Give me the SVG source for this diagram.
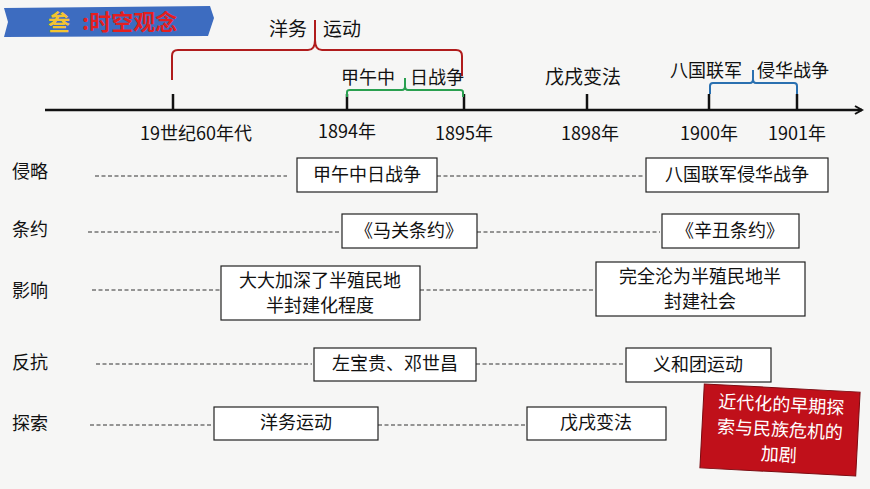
<svg xmlns="http://www.w3.org/2000/svg" width="870" height="489" viewBox="0 0 870 489">
<style>
text{font-family:"Noto Sans CJK SC","Noto Sans",sans-serif;font-size:17px;fill:#111}
.L{font-size:19px}
.y{font-size:18px}
.b{fill:#fff;stroke:#222;stroke-width:1.2}
.d{stroke:#333;stroke-width:1;stroke-dasharray:4 2.5;fill:none}
.t{stroke:#111;stroke-width:2.5}
.c{text-anchor:middle}
</style>
<defs><marker id="ar" markerWidth="10" markerHeight="10" refX="8" refY="5" orient="auto" markerUnits="userSpaceOnUse"><path d="M1 1 L8 5 L1 9" fill="none" stroke="#111" stroke-width="2"/></marker></defs>
<rect width="870" height="489" fill="#f6f6f5"/>
<g id="title"><path d="M4 8 L210 6 L214 18 L208 36 L4 37 L8 22 Z" fill="#3d6cc0"/>
<text x="48" y="30" style="font-weight:bold;font-size:22px;fill:#f4c430">叁</text><text x="82" y="30" style="font-weight:bold;font-size:22px;fill:#e41f1f">:时空观念</text></g>
<g id="connectors">
<line x1="45" y1="110" x2="862" y2="110" class="t" marker-end="url(#ar)"/>
<g class="t"><line x1="173" y1="94" x2="173" y2="110"/><line x1="347" y1="94" x2="347" y2="110"/><line x1="464" y1="94" x2="464" y2="110"/><line x1="587" y1="94" x2="587" y2="110"/><line x1="709" y1="94" x2="709" y2="110"/><line x1="797" y1="94" x2="797" y2="110"/></g>
<path d="M172 80 V56 Q172 50 178 50 H308 Q315 50 315 40 V20 M315 40 Q315 50 322 50 H456 Q462 50 462 56 V76" fill="none" stroke="#b01c1c" stroke-width="2"/>
<path d="M347 97 V92 Q347 90 350 90 H402 Q405 90 405 86 V78 M405 86 Q405 90 408 90 H460 Q463 90 463 92 V97" fill="none" stroke="#2aa050" stroke-width="2"/>
<path d="M710 94 V86 Q710 83 713 83 H750 Q753 83 753 79 V70 M753 79 Q753 83 756 83 H794 Q797 83 797 86 V94" fill="none" stroke="#2a70b0" stroke-width="2"/>
<line class="d" x1="95" y1="176" x2="287" y2="176"/><line class="d" x1="437" y1="176" x2="644" y2="176"/>
<line class="d" x1="88" y1="232" x2="340" y2="232"/><line class="d" x1="477" y1="232" x2="660" y2="232"/>
<line class="d" x1="92" y1="290" x2="220" y2="290"/><line class="d" x1="420" y1="290" x2="595" y2="290"/>
<line class="d" x1="96" y1="364" x2="312" y2="364"/><line class="d" x1="476" y1="364" x2="625" y2="364"/>
<line class="d" x1="90" y1="425" x2="212" y2="425"/><line class="d" x1="378" y1="425" x2="525" y2="425"/>
</g>
<g id="labels">
<text class="L" x="269" y="36">洋务</text><text class="L" x="323" y="36">运动</text>
<text class="y" x="341" y="84">甲午中</text><text class="y" x="410" y="84">日战争</text>
<text class="L" x="545" y="84">戊戌变法</text>
<text class="y" x="670" y="77">八国联军</text><text class="y" x="757" y="77">侵华战争</text>
<text class="c y" x="196" y="140">19世纪60年代</text><text class="c y" x="347" y="138">1894年</text><text class="c y" x="464" y="140">1895年</text><text class="c y" x="590" y="140">1898年</text><text class="c y" x="709" y="140">1900年</text><text class="c y" x="797" y="140">1901年</text>
<text class="y" x="12" y="178">侵略</text><text class="y" x="12" y="236">条约</text><text class="y" x="12" y="297">影响</text><text class="y" x="12" y="369">反抗</text><text class="y" x="12" y="430">探索</text>
</g>
<g id="n1"><rect class="b" x="297" y="158" width="140" height="34"/><text class="c y" x="367" y="181">甲午中日战争</text></g>
<g id="n2"><rect class="b" x="646" y="158" width="182" height="34"/><text class="c y" x="737" y="181">八国联军侵华战争</text></g>
<g id="n3"><rect class="b" x="342" y="214" width="135" height="34"/><text class="c y" x="409" y="237">《马关条约》</text></g>
<g id="n4"><rect class="b" x="662" y="214" width="137" height="34"/><text class="c y" x="730" y="237">《辛丑条约》</text></g>
<g id="n5"><rect class="b" x="221" y="266" width="199" height="54"/><text class="c y" x="320" y="287">大大加深了半殖民地</text><text class="c y" x="320" y="312">半封建化程度</text></g>
<g id="n6"><rect class="b" x="596" y="262" width="209" height="54"/><text class="c y" x="700" y="283">完全沦为半殖民地半</text><text class="c y" x="700" y="308">封建社会</text></g>
<g id="n7"><rect class="b" x="314" y="348" width="162" height="33"/><text class="c y" x="395" y="370">左宝贵、邓世昌</text></g>
<g id="n8"><rect class="b" x="626" y="348" width="145" height="34"/><text class="c y" x="698" y="371">义和团运动</text></g>
<g id="n9"><rect class="b" x="214" y="407" width="164" height="33"/><text class="c y" x="296" y="429">洋务运动</text></g>
<g id="n10"><rect class="b" x="527" y="407" width="139" height="33"/><text class="c y" x="596" y="429">戊戌变法</text></g>
<g id="n11" transform="rotate(3 780 430)"><rect x="702" y="388" width="156" height="84" fill="#c0101a" stroke="#7a0a10"/>
<text class="c y" x="780" y="411" style="fill:#fff">近代化的早期探</text><text class="c y" x="780" y="436" style="fill:#fff">索与民族危机的</text><text class="c y" x="780" y="461" style="fill:#fff">加剧</text></g>
</svg>
